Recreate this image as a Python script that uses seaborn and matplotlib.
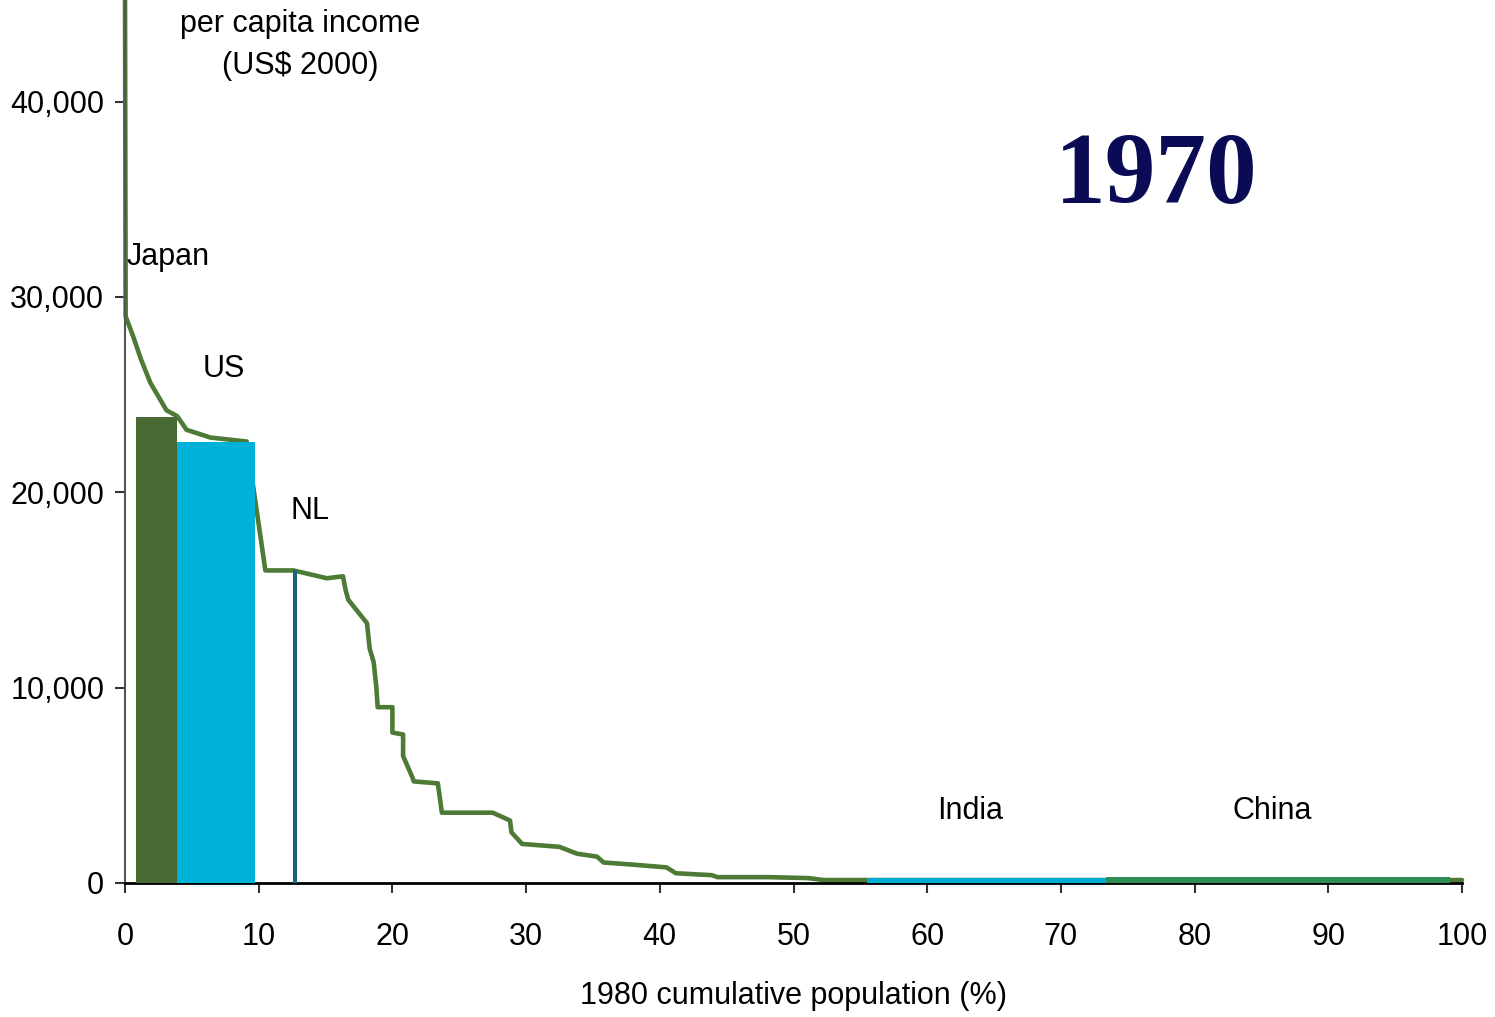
import matplotlib
matplotlib.use("Agg")
import matplotlib.pyplot as plt
import seaborn as sns
import pandas as pd
from matplotlib.ticker import FuncFormatter

sns.set_theme(style="ticks")
plt.rcParams['font.family'] = ['Liberation Sans', 'DejaVu Sans']
plt.rcParams['text.color'] = 'black'
plt.rcParams['axes.labelcolor'] = 'black'
plt.rcParams['xtick.labelcolor'] = 'black'
plt.rcParams['ytick.labelcolor'] = 'black'

# income curve: countries ranked rich -> poor along cumulative population
pop_pct = [0.0, 0.05, 0.6, 1.2, 1.9, 3.1, 3.9, 4.6, 6.4, 9.1,
           10.5, 12.6, 15.1, 16.3, 16.5, 16.7, 18.1, 18.3, 18.6, 18.8,
           18.9, 20.0, 20.0, 20.8, 20.8, 21.5, 21.6, 23.4, 23.7, 27.5,
           28.8, 28.9, 29.7, 32.5, 33.8, 35.3, 35.8, 37.8, 40.5, 41.2,
           43.9, 44.3, 48.1, 51.1, 52.3, 100.0]
income = [46000, 29000, 28000, 26800, 25600, 24200, 23900, 23200, 22800, 22600,
          16000, 16000, 15600, 15700, 15000, 14500, 13300, 12000, 11300, 10000,
          9000, 9000, 7700, 7600, 6500, 5400, 5200, 5100, 3600, 3600,
          3200, 2600, 2000, 1850, 1500, 1350, 1050, 950, 800, 500,
          400, 300, 300, 250, 150, 150]

# highlighted countries
countries = ["Japan", "US", "NL", "India", "China"]
country_start = [0.8, 3.9, 12.55, 55.5, 73.4]
country_share = [3.1, 5.8, 0.35, 17.9, 25.7]
country_income = [23850, 22600, 16000, 250, 300]
country_colors = ["#4a6a33", "#00b1d9", "#17647a", "#00acd4", "#2f8c55"]

fig = plt.figure(figsize=(14.95, 10.17), dpi=100)
ax = fig.add_axes([125 / 1495, 134 / 1017, 1337 / 1495, 883 / 1017])

curve = pd.DataFrame({"pop": pop_pct, "income": income})
sns.lineplot(data=curve, x="pop", y="income", sort=False, estimator=None,
             color="#4d7a35", lw=3.3, ax=ax, zorder=2, clip_on=False)
ax.bar(country_start, country_income, width=country_share, align="edge",
       color=country_colors, linewidth=0, zorder=3)

# labels
fs = 22
ax.text(0.1, 32060, "Japan", ha="left", va="center", fontsize=fs)
ax.text(7.4, 26300, "US", ha="center", va="center", fontsize=fs)
ax.text(13.8, 19050, "NL", ha="center", va="center", fontsize=fs)
ax.text(63.2, 3700, "India", ha="center", va="center", fontsize=fs)
ax.text(85.8, 3700, "China", ha="center", va="center", fontsize=fs)
ax.text(13.1, 43950, "per capita income", ha="center", va="center", fontsize=fs)
ax.text(13.1, 41800, "(US$ 2000)", ha="center", va="center", fontsize=fs)
ax.text(77.1, 36100, "1970", ha="center", va="center", fontsize=73,
        fontweight="bold", family=["Liberation Serif", "DejaVu Serif"], color="#0b0b55")

ax.set_xlim(0, 100)
ax.set_ylim(0, 45200)
ax.set_xticks(range(0, 101, 10))
ax.set_yticks(range(0, 40001, 10000))
ax.yaxis.set_major_formatter(FuncFormatter(lambda v, p: f"{v:,.0f}"))
ax.set_xlabel("1980 cumulative population (%)", fontsize=fs, labelpad=21)
ax.set_ylabel("")

sns.despine(ax=ax)
ax.spines["left"].set_color("#555555")
ax.spines["left"].set_linewidth(1.5)
ax.spines["bottom"].set_color("black")
ax.spines["bottom"].set_linewidth(2)
ax.tick_params(axis="x", length=7, width=1.5, pad=21, labelsize=fs, color="#333333")
ax.tick_params(axis="y", length=7, width=1.5, pad=8, labelsize=fs, color="#333333")

fig.savefig("out.png", dpi=100)
